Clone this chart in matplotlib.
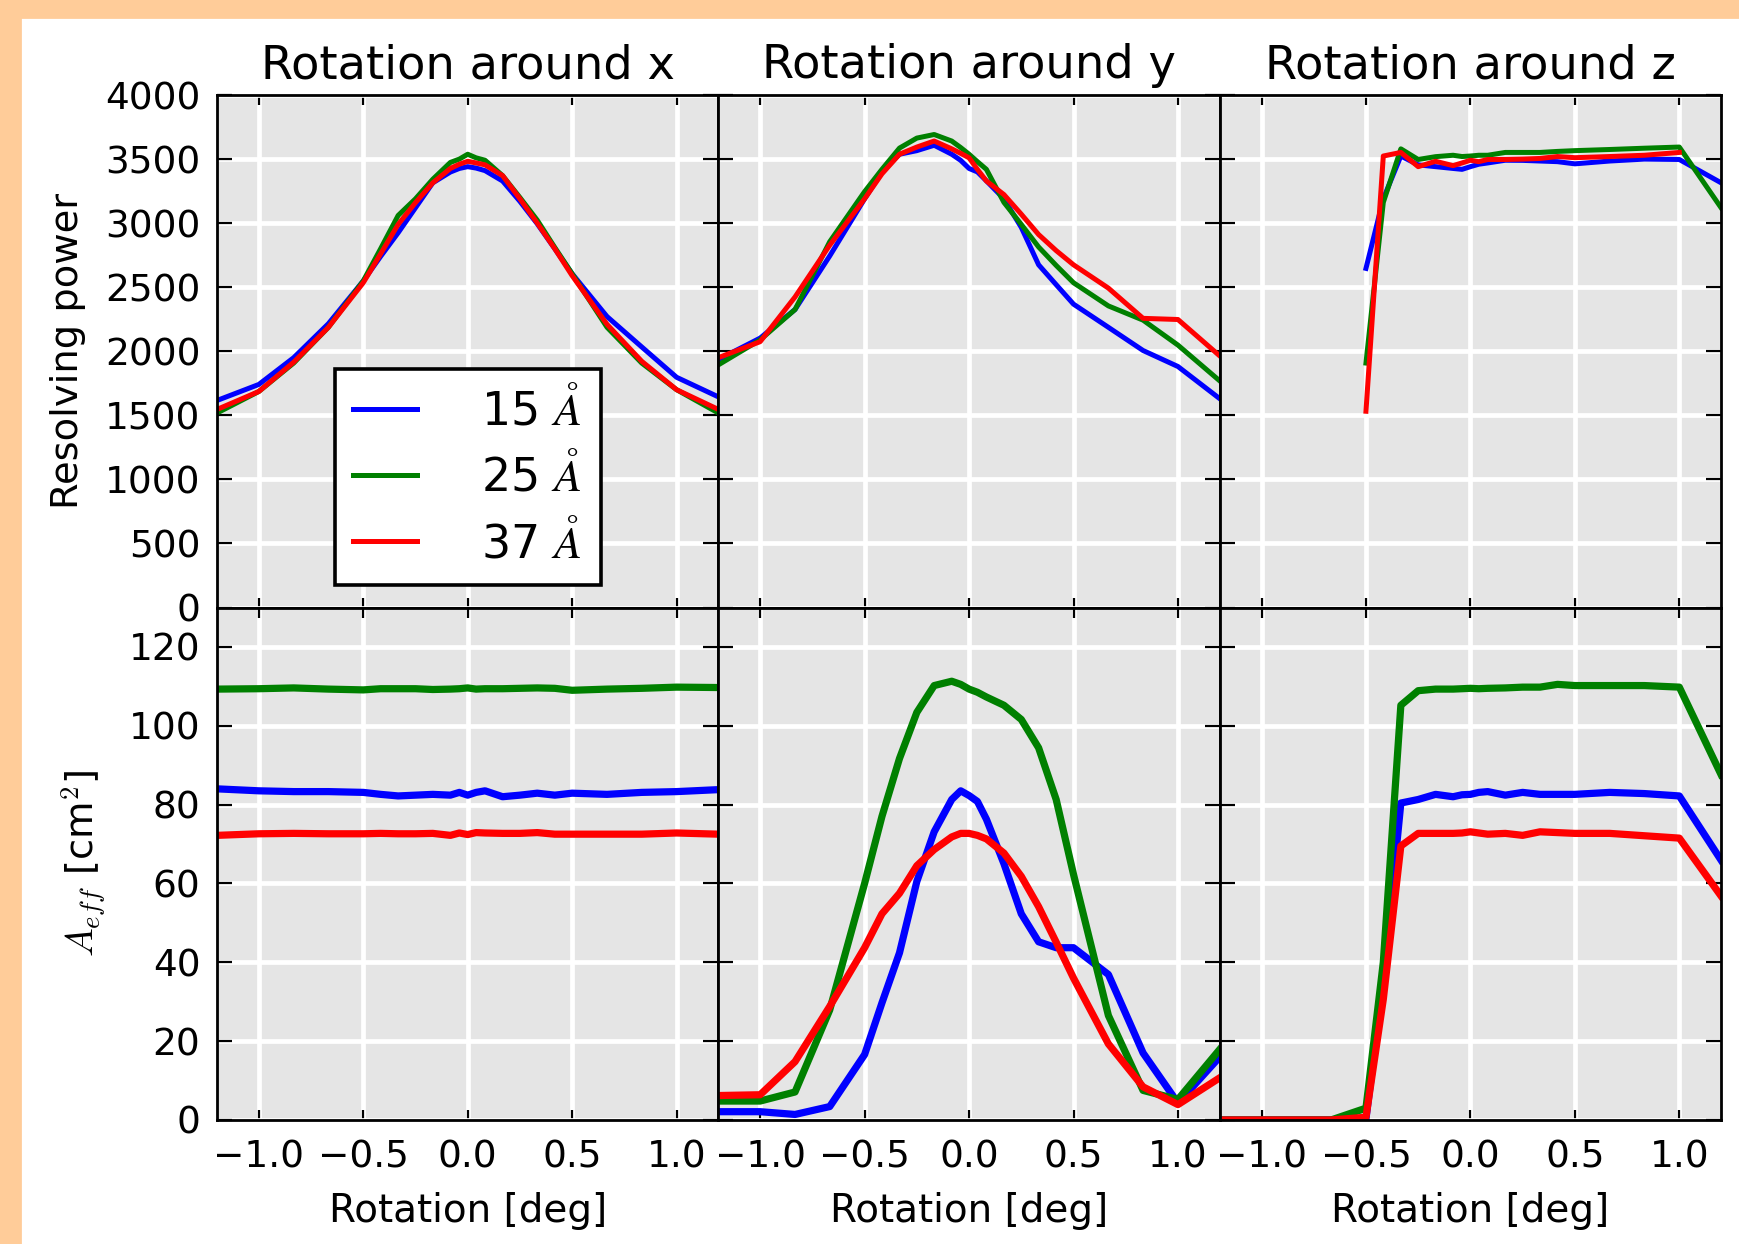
import numpy as np
import matplotlib
matplotlib.use("Agg")
import matplotlib.pyplot as plt
from matplotlib.patches import Rectangle

nan = np.nan

# rotation angle [deg], shared by all panels
rotation = [-1.2, -1.0, -0.833, -0.667, -0.5, -0.417, -0.333, -0.25, -0.167, -0.083, -0.04, 0.0,
            0.04, 0.083, 0.167, 0.25, 0.333, 0.417, 0.5, 0.667, 0.833, 1.0, 1.2]

wavelengths = ["15", "25", "37"]
colors = ["b", "g", "r"]

# resolving power, rotation around x
rp_x_15 = [1616, 1741, 1950, 2215, 2549, 2740, 2925, 3120, 3315, 3399, 3427, 3441,
           3430, 3410, 3329, 3170, 2995, 2800, 2605, 2271, 2034, 1797, 1644]
rp_x_25 = [1518, 1686, 1908, 2187, 2549, 2800, 3060, 3190, 3343, 3474, 3500, 3538,
           3510, 3491, 3371, 3200, 3023, 2810, 2605, 2187, 1908, 1700, 1518]
rp_x_37 = [1546, 1686, 1915, 2187, 2535, 2760, 2990, 3160, 3315, 3427, 3460, 3483,
           3470, 3455, 3371, 3190, 3000, 2800, 2590, 2210, 1922, 1700, 1546]

# resolving power, rotation around y
rp_y_15 = [1936, 2103, 2326, 2744, 3190, 3400, 3538, 3566, 3608, 3538, 3490, 3427,
           3400, 3330, 3190, 2967, 2675, 2520, 2368, 2187, 2006, 1881, 1630]
rp_y_25 = [1894, 2089, 2326, 2855, 3246, 3420, 3586, 3664, 3692, 3641, 3590, 3538,
           3480, 3420, 3162, 2990, 2814, 2670, 2535, 2354, 2243, 2048, 1769]
rp_y_37 = [1950, 2075, 2424, 2828, 3190, 3385, 3538, 3594, 3641, 3580, 3545, 3510,
           3420, 3329, 3223, 3070, 2911, 2786, 2675, 2493, 2257, 2248, 1964]

# resolving power, rotation around z
rp_z_15 = [nan, nan, nan, nan, 2647, 3190, 3524, 3455, 3441, 3427, 3420, 3441,
           3460, 3470, 3491, 3490, 3485, 3480, 3463, 3485, 3500, 3497, 3315]
rp_z_25 = [nan, nan, nan, nan, 1908, 3162, 3580, 3497, 3519, 3530, 3520, 3524,
           3530, 3530, 3552, 3552, 3552, 3560, 3566, 3575, 3585, 3594, 3120]
rp_z_37 = [nan, nan, nan, nan, 1532, 3524, 3552, 3441, 3483, 3449, 3470, 3491,
           3480, 3497, 3497, 3500, 3505, 3520, 3511, 3520, 3530, 3552, nan]

# effective area [cm^2], rotation around x
aeff_x_15 = [84.0, 83.5, 83.3, 83.3, 83.1, 82.6, 82.2, 82.4, 82.6, 82.4, 83.1, 82.4,
             83.1, 83.5, 82.0, 82.4, 82.9, 82.4, 82.9, 82.6, 83.1, 83.3, 83.8]
aeff_x_25 = [109.3, 109.4, 109.6, 109.3, 109.1, 109.4, 109.4, 109.4, 109.2, 109.3, 109.4, 109.6,
             109.3, 109.4, 109.4, 109.5, 109.6, 109.5, 109.0, 109.3, 109.5, 109.8, 109.7]
aeff_x_37 = [72.2, 72.6, 72.7, 72.6, 72.6, 72.7, 72.6, 72.6, 72.7, 72.2, 72.8, 72.4,
             72.9, 72.8, 72.7, 72.7, 72.9, 72.5, 72.5, 72.5, 72.5, 72.8, 72.5]

# effective area [cm^2], rotation around y
aeff_y_15 = [2.1, 2.1, 1.4, 3.4, 16.6, 29.7, 42.4, 60.5, 73.1, 81.3, 83.5, 82.3,
             80.8, 76.3, 65.0, 52.3, 45.2, 43.7, 43.7, 36.9, 17.0, 4.3, 16.0]
aeff_y_25 = [4.8, 4.8, 7.1, 27.9, 60.0, 77.0, 91.7, 103.4, 110.2, 111.3, 110.5, 109.3,
             108.5, 107.3, 105.2, 101.6, 94.4, 81.3, 62.3, 26.5, 7.5, 5.2, 17.9]
aeff_y_37 = [6.2, 6.4, 14.8, 28.8, 43.7, 52.3, 57.5, 64.5, 68.6, 71.8, 72.7, 72.7,
             72.2, 71.3, 67.7, 61.8, 54.1, 45.1, 36.0, 19.3, 8.4, 3.9, 10.7]

# effective area [cm^2], rotation around z
aeff_z_15 = [0, 0, 0, 0, 0.3, 35.0, 80.4, 81.3, 82.6, 82.0, 82.5, 82.6,
             83.1, 83.3, 82.4, 83.1, 82.6, 82.6, 82.6, 83.1, 82.8, 82.2, 65.9]
aeff_z_25 = [0, 0, 0, 0, 3.0, 40.0, 105.2, 108.9, 109.3, 109.3, 109.4, 109.5,
             109.4, 109.5, 109.6, 109.8, 109.8, 110.5, 110.2, 110.2, 110.2, 109.8, 87.6]
aeff_z_37 = [0, 0, 0, 0, 0.7, 30.6, 69.5, 72.7, 72.7, 72.7, 72.8, 73.1,
             72.8, 72.5, 72.7, 72.2, 73.1, 72.9, 72.7, 72.7, 72.1, 71.5, 56.8]

titles = ["Rotation around x", "Rotation around y", "Rotation around z"]
rp = [[rp_x_15, rp_x_25, rp_x_37], [rp_y_15, rp_y_25, rp_y_37], [rp_z_15, rp_z_25, rp_z_37]]
aeff = [[aeff_x_15, aeff_x_25, aeff_x_37], [aeff_y_15, aeff_y_25, aeff_y_37],
        [aeff_z_15, aeff_z_25, aeff_z_37]]

plt.rcParams["font.family"] = ["DejaVu Sans"]
plt.rcParams["mathtext.fontset"] = "cm"

fig, axes = plt.subplots(2, 3, figsize=(8.695, 6.22), dpi=200)
fig.subplots_adjust(left=0.1248, right=0.9897, top=0.9236, bottom=0.0997, wspace=0, hspace=0)

for col in range(3):
    for row in range(2):
        ax = axes[row, col]
        ax.set_facecolor("#E5E5E5")
        ax.grid(True, color="white", lw=1.7, ls="-")
        ax.set_axisbelow(True)
        for s in ax.spines.values():
            s.set_linewidth(1.0)
        series = rp[col] if row == 0 else aeff[col]
        lw = 1.8 if row == 0 else 2.6
        for vals, c, w in zip(series, colors, wavelengths):
            ax.plot(rotation, vals, color=c, lw=lw, label=w + r" $\AA$")
        ax.set_xlim(-1.2, 1.2)
        ax.set_xticks([-1.0, -0.5, 0.0, 0.5, 1.0])
        if row == 0:
            ax.set_ylim(0, 4000)
            ax.set_yticks(np.arange(0, 4001, 500))
        else:
            ax.set_ylim(0, 130)
            ax.set_yticks(np.arange(0, 121, 20))
        ax.tick_params(axis="both", direction="in", top=True, right=True,
                       labelsize=13.5, width=0.8, colors="black")
        ax.tick_params(axis="x", length=3.6, pad=7)
        ax.tick_params(axis="y", length=5.4, pad=6)
        if col > 0:
            ax.tick_params(labelleft=False)
        if row == 0:
            ax.tick_params(labelbottom=False)
            ax.set_title(titles[col], fontsize=16.7, pad=6)
        else:
            ax.set_xlabel("Rotation [deg]", fontsize=14, labelpad=6)

axes[0, 0].set_ylabel("Resolving power", fontsize=13.8)
axes[0, 0].yaxis.set_label_coords(-0.262, 0.5)
axes[1, 0].set_ylabel(r"$A_{eff}$ [cm$^2$]", fontsize=13.8)
axes[1, 0].yaxis.set_label_coords(-0.218, 0.5)

leg = axes[0, 0].legend(loc="lower center", bbox_to_anchor=(0.5, 0.043), fontsize=16.5,
                        handlelength=1.4, handletextpad=1.4, labelspacing=0.42,
                        borderpad=0.4, borderaxespad=0, fancybox=False, framealpha=1,
                        edgecolor="black")
leg.get_frame().set_linewidth(1.3)

# peach frame strips on the left and top edges
fig.patches.append(Rectangle((0, 0), 0.0115, 1, transform=fig.transFigure,
                             color="#FFCC99", zorder=0))
fig.patches.append(Rectangle((0, 1 - 0.0137), 1, 0.0137, transform=fig.transFigure,
                             color="#FFCC99", zorder=0))

fig.savefig("out.png", dpi=200, facecolor="white")
